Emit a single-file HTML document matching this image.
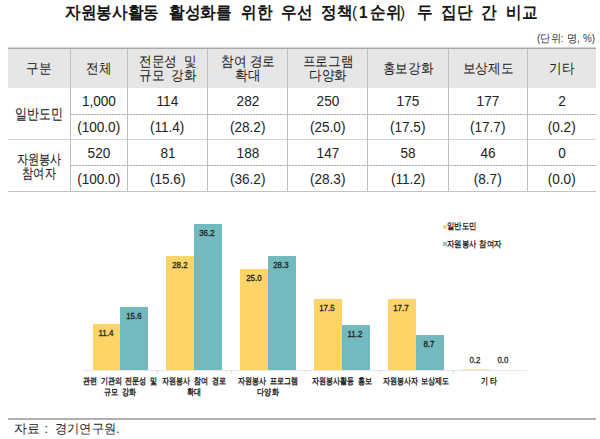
<!DOCTYPE html>
<html><head><meta charset="utf-8"><style>
*{margin:0;padding:0;box-sizing:border-box}
html,body{width:600px;height:439px;background:#fff;overflow:hidden;font-family:"Liberation Sans",sans-serif;color:#222}
body>div{position:absolute;white-space:nowrap}
.tw{font-size:16.6px;line-height:16.6px;font-weight:bold;color:#151515;transform:scaleX(0.92);transform-origin:0 0}
.unit{font-size:10.6px;line-height:11px;color:#333;transform:scaleX(0.93);transform-origin:0 0;word-spacing:0.6px}
.dl{height:1px;background:repeating-linear-gradient(90deg,#b0b0b0 0 2px,#e2e2e2 2px 3px)}
.cell{display:flex;align-items:center;justify-content:center;text-align:center}
.k{display:block;font-size:14.2px;line-height:13.3px;color:#222;-webkit-text-stroke:0.05px #222;transform:scaleX(0.8);white-space:nowrap}
.kh,.kh2{transform:scaleX(0.9)}
.k0{-webkit-text-stroke:0.12px #222}
.kh2{line-height:13.6px}
.n{display:block;font-size:14.3px;line-height:14px;color:#222;transform:scaleX(0.95);white-space:nowrap}
.v{width:27.8px;text-align:center;font-size:8.6px;line-height:9px;color:#222;-webkit-text-stroke:0.3px #222;transform:scaleX(0.92)}
.lab{width:100px;text-align:center}
.lab span{display:block;font-size:8.8px;line-height:11.4px;color:#1a1a1a;transform:scaleX(0.78);word-spacing:2.4px;-webkit-text-stroke:0.4px #262626}
.leg{font-size:8.5px;line-height:9px;font-weight:bold;color:#222;transform:scaleX(0.82);transform-origin:0 0}
.src{font-size:12.9px;line-height:13px;color:#222;transform-origin:0 0}
</style></head><body>
<div class="tw" style="left:65.2px;top:4.6px">자원봉사활동</div>
<div class="tw" style="left:169.2px;top:4.6px">활성화를</div>
<div class="tw" style="left:240.5px;top:4.6px">위한</div>
<div class="tw" style="left:280.9px;top:4.6px">우선</div>
<div class="tw" style="left:320.8px;top:4.6px">정책</div>
<div class="tw" style="left:352.2px;top:4.6px"><span style="font-weight:normal">(</span></div>
<div class="tw" style="left:358.8px;top:4.6px">1</div>
<div class="tw" style="left:369.8px;top:4.6px">순위</div>
<div class="tw" style="left:400.0px;top:4.6px"><span style="font-weight:normal">)</span></div>
<div class="tw" style="left:416.7px;top:4.6px">두</div>
<div class="tw" style="left:441.2px;top:4.6px">집단</div>
<div class="tw" style="left:480.8px;top:4.6px">간</div>
<div class="tw" style="left:506.4px;top:4.6px">비교</div>
<div class="unit" style="left:536.8px;top:32.5px">(단위: 명, %)</div>
<div style="position:absolute;left:8px;top:47px;width:588px;height:1px;background:#d4d4d4"></div>
<div style="position:absolute;left:8px;top:48px;width:588px;height:1px;background:#a8a8a8"></div>
<div style="position:absolute;left:8px;top:49px;width:588px;height:39px;background:#e6e6e6"></div>
<div class="dl" style="left:70px;top:114px;width:526px"></div>
<div style="position:absolute;left:8px;top:139px;width:588px;height:1px;background:#d2d2d2"></div>
<div class="dl" style="left:70px;top:165px;width:526px"></div>
<div style="position:absolute;left:8px;top:191px;width:588px;height:1px;background:#c2c2c2"></div>
<div style="position:absolute;left:70px;top:49px;width:1px;height:143px;background:#bebebe"></div>
<div style="position:absolute;left:127px;top:49px;width:1px;height:143px;background:#bebebe"></div>
<div style="position:absolute;left:207px;top:49px;width:1px;height:143px;background:#bebebe"></div>
<div style="position:absolute;left:287px;top:49px;width:1px;height:143px;background:#bebebe"></div>
<div style="position:absolute;left:367px;top:49px;width:1px;height:143px;background:#bebebe"></div>
<div style="position:absolute;left:448px;top:49px;width:1px;height:143px;background:#bebebe"></div>
<div style="position:absolute;left:527px;top:49px;width:1px;height:143px;background:#bebebe"></div>
<div class="cell" style="left:8px;top:50px;width:62.5px;height:38px"><span class="k kh">구분</span></div>
<div class="cell" style="left:70.5px;top:50px;width:57.0px;height:38px"><span class="k kh">전체</span></div>
<div class="cell" style="left:127.5px;top:48.8px;width:80.0px;height:39.5px"><span class="k kh2">전문성 &nbsp;및<br>규모 &nbsp;강화</span></div>
<div class="cell" style="left:207.5px;top:48.8px;width:80.0px;height:39.5px"><span class="k kh2">참여 경로<br>확대</span></div>
<div class="cell" style="left:287.5px;top:48.8px;width:80.0px;height:39.5px"><span class="k kh2">프로그램<br>다양화</span></div>
<div class="cell" style="left:367.5px;top:50px;width:80.5px;height:38px"><span class="k kh">홍보강화</span></div>
<div class="cell" style="left:448px;top:50px;width:79.5px;height:38px"><span class="k kh">보상제도</span></div>
<div class="cell" style="left:527.5px;top:50px;width:68.5px;height:38px"><span class="k kh">기타</span></div>
<div class="cell" style="left:8px;top:88px;width:62.5px;height:54px"><span class="k k0"><span style="font-size:14.8px">일반도민</span></span></div>
<div class="cell" style="left:8px;top:140px;width:62.5px;height:53px"><span class="k k0"><span style="line-height:13.8px">자원봉사<br>참여자</span></span></div>
<div class="cell" style="left:70.5px;top:87.6px;width:57.0px;height:26.0px"><span class="n">1,000</span></div>
<div class="cell" style="left:127.5px;top:87.6px;width:80.0px;height:26.0px"><span class="n">114</span></div>
<div class="cell" style="left:207.5px;top:87.6px;width:80.0px;height:26.0px"><span class="n">282</span></div>
<div class="cell" style="left:287.5px;top:87.6px;width:80.0px;height:26.0px"><span class="n">250</span></div>
<div class="cell" style="left:367.5px;top:87.6px;width:80.5px;height:26.0px"><span class="n">175</span></div>
<div class="cell" style="left:448px;top:87.6px;width:79.5px;height:26.0px"><span class="n">177</span></div>
<div class="cell" style="left:527.5px;top:87.6px;width:68.5px;height:26.0px"><span class="n">2</span></div>
<div class="cell" style="left:70.5px;top:113.6px;width:57.0px;height:26.0px"><span class="n">(100.0)</span></div>
<div class="cell" style="left:127.5px;top:113.6px;width:80.0px;height:26.0px"><span class="n">(11.4)</span></div>
<div class="cell" style="left:207.5px;top:113.6px;width:80.0px;height:26.0px"><span class="n">(28.2)</span></div>
<div class="cell" style="left:287.5px;top:113.6px;width:80.0px;height:26.0px"><span class="n">(25.0)</span></div>
<div class="cell" style="left:367.5px;top:113.6px;width:80.5px;height:26.0px"><span class="n">(17.5)</span></div>
<div class="cell" style="left:448px;top:113.6px;width:79.5px;height:26.0px"><span class="n">(17.7)</span></div>
<div class="cell" style="left:527.5px;top:113.6px;width:68.5px;height:26.0px"><span class="n">(0.2)</span></div>
<div class="cell" style="left:70.5px;top:139.6px;width:57.0px;height:26.0px"><span class="n">520</span></div>
<div class="cell" style="left:127.5px;top:139.6px;width:80.0px;height:26.0px"><span class="n">81</span></div>
<div class="cell" style="left:207.5px;top:139.6px;width:80.0px;height:26.0px"><span class="n">188</span></div>
<div class="cell" style="left:287.5px;top:139.6px;width:80.0px;height:26.0px"><span class="n">147</span></div>
<div class="cell" style="left:367.5px;top:139.6px;width:80.5px;height:26.0px"><span class="n">58</span></div>
<div class="cell" style="left:448px;top:139.6px;width:79.5px;height:26.0px"><span class="n">46</span></div>
<div class="cell" style="left:527.5px;top:139.6px;width:68.5px;height:26.0px"><span class="n">0</span></div>
<div class="cell" style="left:70.5px;top:165.6px;width:57.0px;height:26.0px"><span class="n">(100.0)</span></div>
<div class="cell" style="left:127.5px;top:165.6px;width:80.0px;height:26.0px"><span class="n">(15.6)</span></div>
<div class="cell" style="left:207.5px;top:165.6px;width:80.0px;height:26.0px"><span class="n">(36.2)</span></div>
<div class="cell" style="left:287.5px;top:165.6px;width:80.0px;height:26.0px"><span class="n">(28.3)</span></div>
<div class="cell" style="left:367.5px;top:165.6px;width:80.5px;height:26.0px"><span class="n">(11.2)</span></div>
<div class="cell" style="left:448px;top:165.6px;width:79.5px;height:26.0px"><span class="n">(8.7)</span></div>
<div class="cell" style="left:527.5px;top:165.6px;width:68.5px;height:26.0px"><span class="n">(0.0)</span></div>
<div style="position:absolute;left:83px;top:370px;width:444px;height:1px;background:#e6e6e6"></div>
<div style="position:absolute;left:157.3px;top:370px;width:1px;height:3px;background:#dedede"></div>
<div style="position:absolute;left:231.2px;top:370px;width:1px;height:3px;background:#dedede"></div>
<div style="position:absolute;left:305.0px;top:370px;width:1px;height:3px;background:#dedede"></div>
<div style="position:absolute;left:378.8px;top:370px;width:1px;height:3px;background:#dedede"></div>
<div style="position:absolute;left:452.7px;top:370px;width:1px;height:3px;background:#dedede"></div>
<div style="position:absolute;left:92.6px;top:323.9px;width:27.8px;height:46.1px;background:#fdd467"></div>
<div class="v" style="left:91.8px;top:328.9px">11.4</div>
<div style="position:absolute;left:120.4px;top:307.0px;width:27.8px;height:63.0px;background:#72babe"></div>
<div class="v" style="left:119.6px;top:312.0px">15.6</div>
<div style="position:absolute;left:166.4px;top:256.1px;width:27.8px;height:113.9px;background:#fdd467"></div>
<div class="v" style="left:165.6px;top:261.1px">28.2</div>
<div style="position:absolute;left:194.2px;top:223.8px;width:27.8px;height:146.2px;background:#72babe"></div>
<div class="v" style="left:193.4px;top:228.8px">36.2</div>
<div style="position:absolute;left:240.3px;top:269.0px;width:27.8px;height:101.0px;background:#fdd467"></div>
<div class="v" style="left:239.5px;top:274.0px">25.0</div>
<div style="position:absolute;left:268.1px;top:255.7px;width:27.8px;height:114.3px;background:#72babe"></div>
<div class="v" style="left:267.3px;top:260.7px">28.3</div>
<div style="position:absolute;left:314.1px;top:299.3px;width:27.8px;height:70.7px;background:#fdd467"></div>
<div class="v" style="left:313.3px;top:304.3px">17.5</div>
<div style="position:absolute;left:341.9px;top:324.8px;width:27.8px;height:45.2px;background:#72babe"></div>
<div class="v" style="left:341.1px;top:329.8px">11.2</div>
<div style="position:absolute;left:387.9px;top:298.5px;width:27.8px;height:71.5px;background:#fdd467"></div>
<div class="v" style="left:387.1px;top:303.5px">17.7</div>
<div style="position:absolute;left:415.8px;top:334.9px;width:27.8px;height:35.1px;background:#72babe"></div>
<div class="v" style="left:414.9px;top:339.9px">8.7</div>
<div style="position:absolute;left:461.8px;top:369px;width:27.8px;height:1px;background:#f6e9b8"></div>
<div class="v" style="left:460.8px;top:356.2px;color:#333">0.2</div>
<div class="v" style="left:488.6px;top:356.2px;color:#333">0.0</div>
<div class="lab" style="left:70.4px;top:375.5px"><span>관련 기관의 전문성 및<br>규모 강화</span></div>
<div class="lab" style="left:144.2px;top:375.5px"><span>자원봉사 참여 경로<br>확대</span></div>
<div class="lab" style="left:218.1px;top:375.5px"><span>자원봉사 프로그램<br>다양화</span></div>
<div class="lab" style="left:291.9px;top:375.5px"><span>자원봉사활동 홍보</span></div>
<div class="lab" style="left:365.8px;top:375.5px"><span>자원봉사자 보상제도</span></div>
<div class="lab" style="left:439.6px;top:375.5px"><span><span style="letter-spacing:1.8px;margin-left:-0.6px;transform:none;display:inline">기타</span></span></div>
<div style="position:absolute;left:443px;top:225px;width:3.6px;height:3.8px;background:#f2da8a"></div>
<div style="position:absolute;left:443px;top:242.2px;width:3.6px;height:3.8px;background:#9cc6c6"></div>
<div class="leg" style="left:447.4px;top:222.2px">일반도민</div>
<div class="leg" style="left:447.4px;top:239.9px;word-spacing:1px">자원봉사 참여자</div>
<div style="position:absolute;left:8px;top:418px;width:588px;height:2px;background:#b0b0b0"></div>
<div class="src" style="left:14.2px;top:421.6px">자료</div>
<div class="src" style="left:44.5px;top:421.6px">:</div>
<div class="src" style="left:55.2px;top:421.6px;transform:scaleX(0.94)">경기연구원.</div>
</body></html>
